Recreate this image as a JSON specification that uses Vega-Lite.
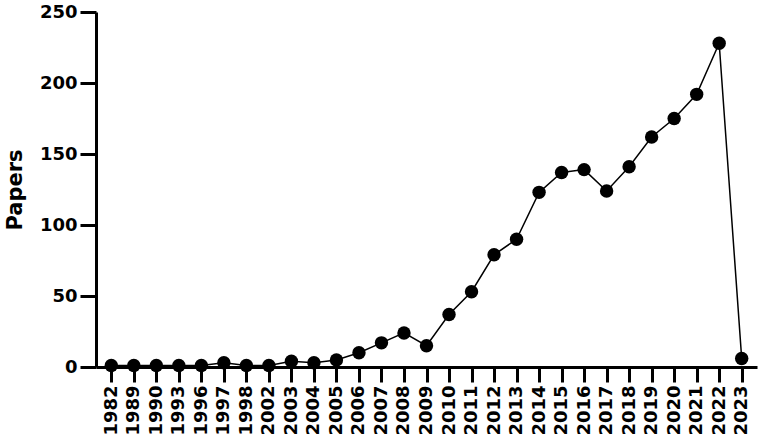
{
  "$schema": "https://vega.github.io/schema/vega-lite/v6.json",
  "autosize": "none",
  "padding": {"left": 96, "top": 12, "right": 4, "bottom": 73},
  "width": 661,
  "height": 355,
  "background": "white",
  "data": {
    "values": [
      {"Year": "1982", "Papers": 1},
      {"Year": "1989", "Papers": 1},
      {"Year": "1990", "Papers": 1},
      {"Year": "1993", "Papers": 1},
      {"Year": "1996", "Papers": 1},
      {"Year": "1997", "Papers": 3},
      {"Year": "1998", "Papers": 1},
      {"Year": "2002", "Papers": 1},
      {"Year": "2003", "Papers": 4},
      {"Year": "2004", "Papers": 3},
      {"Year": "2005", "Papers": 5},
      {"Year": "2006", "Papers": 10},
      {"Year": "2007", "Papers": 17},
      {"Year": "2008", "Papers": 24},
      {"Year": "2009", "Papers": 15},
      {"Year": "2010", "Papers": 37},
      {"Year": "2011", "Papers": 53},
      {"Year": "2012", "Papers": 79},
      {"Year": "2013", "Papers": 90},
      {"Year": "2014", "Papers": 123},
      {"Year": "2015", "Papers": 137},
      {"Year": "2016", "Papers": 139},
      {"Year": "2017", "Papers": 124},
      {"Year": "2018", "Papers": 141},
      {"Year": "2019", "Papers": 162},
      {"Year": "2020", "Papers": 175},
      {"Year": "2021", "Papers": 192},
      {"Year": "2022", "Papers": 228},
      {"Year": "2023", "Papers": 6}
    ]
  },
  "encoding": {
    "x": {
      "field": "Year",
      "type": "ordinal",
      "sort": null,
      "scale": {"type": "point", "padding": 0.68},
      "axis": {
        "title": null,
        "labelAngle": -90,
        "labelFont": "DejaVu Sans",
        "labelFontWeight": "bold",
        "labelFontSize": 18,
        "labelColor": "black",
        "labelPadding": 3,
        "tickSize": 15,
        "tickWidth": 3,
        "tickColor": "black",
        "domainWidth": 3,
        "domainColor": "black"
      }
    },
    "y": {
      "field": "Papers",
      "type": "quantitative",
      "scale": {"domain": [0, 250], "nice": false},
      "axis": {
        "title": "Papers",
        "titleFont": "DejaVu Sans",
        "titleFontWeight": "bold",
        "titleFontSize": 21,
        "titleColor": "black",
        "titlePadding": 14,
        "values": [0, 50, 100, 150, 200, 250],
        "grid": false,
        "labelFont": "DejaVu Sans",
        "labelFontWeight": "bold",
        "labelFontSize": 18,
        "labelColor": "black",
        "labelPadding": 3,
        "tickSize": 16,
        "tickWidth": 3,
        "tickColor": "black",
        "domainWidth": 3,
        "domainColor": "black"
      }
    }
  },
  "layer": [
    {"mark": {"type": "line", "color": "black", "strokeWidth": 1.5}},
    {"mark": {"type": "point", "filled": true, "color": "black", "opacity": 1, "size": 180}}
  ],
  "config": {"view": {"stroke": null}}
}
